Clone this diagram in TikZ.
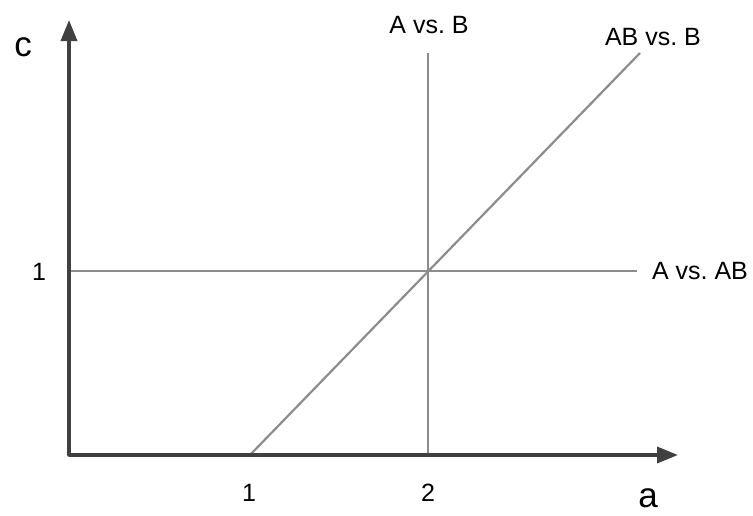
\documentclass[tikz,border=0pt]{standalone}
\usepackage{fontspec}
\setmainfont{Liberation Sans}
\usetikzlibrary{arrows.meta}
\begin{document}
\begin{tikzpicture}[x=1pt,y=-1pt,
  axis/.style={line width=3.5pt,draw=black!75,-{Triangle[length=21pt,width=16pt]},shorten >=-1pt},
  curve/.style={line width=2.2pt,draw=black!45},
  lbl/.style={inner sep=0pt,font=\fontsize{25}{28}\selectfont},
  big/.style={inner sep=0pt,font=\fontsize{35}{38}\selectfont}]
\useasboundingbox (0,0) rectangle (753,515);
\coordinate (O) at (69,455);
\coordinate (ytop) at (69,21);
\coordinate (xend) at (677,455);
\coordinate (d0) at (250,455);
\coordinate (d1) at (640,53);
\coordinate (v0) at (428,455);
\coordinate (v1) at (428,53);
\coordinate (h0) at (69,271);
\coordinate (h1) at (637,271);
\draw[curve] (d0) -- (d1);
\draw[curve] (v0) -- (v1);
\draw[curve] (h0) -- (h1);
\draw[axis,line cap=round] (O) -- (ytop);
\draw[axis] (O) -- (xend);
\node[big] (c) at (23,47) {c};
\node[big] (a) at (648,498) {a};
\node[lbl] (y1) at (39,272) {1};
\node[lbl] (x1) at (249,493) {1};
\node[lbl] (x2) at (428,493) {2};
\node[lbl] (AB) at (429,25) {A vs.\ B};
\node[lbl] (ABB) at (653,37) {AB vs.\ B};
\node[lbl] (AAB) at (700,271) {A vs.\ AB};
\end{tikzpicture}
\end{document}
